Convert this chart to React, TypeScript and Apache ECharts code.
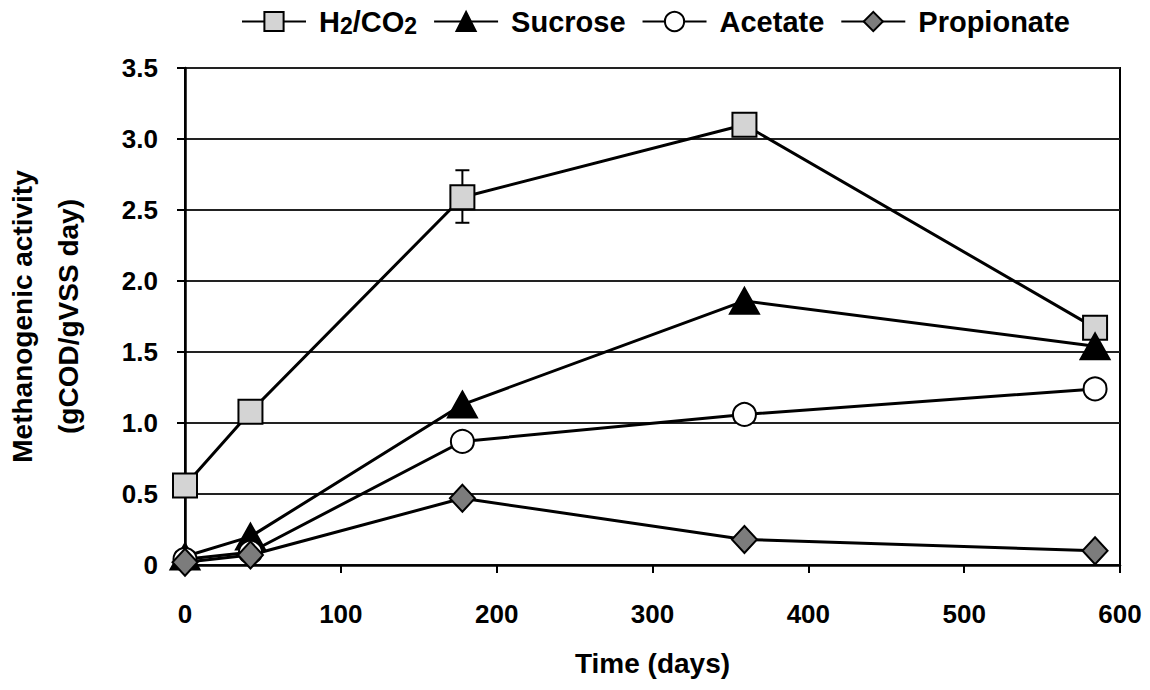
import React, { useEffect, useRef } from "react";
import * as echarts from "echarts";

const days = [0, 42, 178, 359, 584];
const h2co2 = [0.56, 1.08, 2.59, 3.1, 1.67];
const sucrose = [0.06, 0.2, 1.13, 1.86, 1.54];
const acetate = [0.04, 0.09, 0.87, 1.06, 1.24];
const propionate = [0.02, 0.07, 0.47, 0.18, 0.1];
const h2co2ErrorBars = [[178, 2.41, 2.78]];
const seriesNames = ["H2/CO2", "Sucrose", "Acetate", "Propionate"];
const xTicks = [0, 100, 200, 300, 400, 500, 600];
const yTicks = [0, 0.5, 1, 1.5, 2, 2.5, 3, 3.5];

const FONT = "'Liberation Sans', Arial, sans-serif";

export default function App() {
  const ref = useRef<HTMLDivElement>(null);
  useEffect(() => {
    document.body.style.margin = "0";
    const chart = echarts.init(ref.current!, null, { renderer: "svg" });
    const pts = (ys: number[]) => days.map((d, i) => [d, ys[i]]);
    const lineBase = (name: string, ys: number[], symbol: string, size: any, fill: string) => ({
      name,
      type: "line",
      data: pts(ys),
      symbol,
      symbolSize: size,
      showSymbol: true,
      lineStyle: { color: "#000", width: 3 },
      itemStyle: { color: fill, borderColor: "#000", borderWidth: 2, opacity: 1 },
      z: 3,
    });
    const txt = { fontFamily: FONT, fontWeight: "bold", fontSize: 29, color: "#000" };
    chart.setOption({
      animation: false,
      backgroundColor: "#fff",
      textStyle: { fontFamily: FONT },
      legend: {
        data: seriesNames,
        top: 2,
        left: 236,
        itemWidth: 64,
        itemHeight: 24,
        itemGap: 16,
        textStyle: {
          ...txt,
          rich: {
            f: { ...txt, padding: [0, 0, 0, 8] },
            a: { ...txt },
            s: { ...txt, fontSize: 23, padding: [8, 0, 0, 0] },
          },
        },
        formatter: (n: string) => (n === "H2/CO2" ? "{f|H}{s|2}{a|/CO}{s|2}" : "{f|" + n + "}"),
      },
      grid: {
        left: 185,
        right: 30,
        top: 68,
        bottom: 125,
        show: true,
        borderColor: "#000",
        borderWidth: 2,
        outerBoundsMode: "none",
        containLabel: false,
      },
      xAxis: {
        type: "value",
        min: xTicks[0],
        max: xTicks[xTicks.length - 1],
        interval: 100,
        name: "Time (days)",
        nameLocation: "middle",
        nameGap: 84,
        nameTextStyle: { fontFamily: FONT, fontWeight: "bold", fontSize: 28, color: "#000" },
        axisLine: { show: true, lineStyle: { color: "#000", width: 2.5 } },
        axisTick: { show: true, inside: false, length: 8, lineStyle: { color: "#000", width: 2 } },
        axisLabel: { margin: 36, fontFamily: FONT, fontWeight: "bold", fontSize: 26, color: "#000" },
        splitLine: { show: false },
      },
      yAxis: {
        type: "value",
        min: yTicks[0],
        max: yTicks[yTicks.length - 1],
        interval: 0.5,
        name: "Methanogenic activity\n(gCOD/gVSS day)",
        nameLocation: "middle",
        nameRotate: 90,
        nameGap: 94,
        nameTextStyle: { fontFamily: FONT, fontWeight: "bold", fontSize: 28, color: "#000", lineHeight: 46 },
        axisLine: { show: true, lineStyle: { color: "#000", width: 2.5 } },
        axisTick: { show: true, inside: false, length: 8, lineStyle: { color: "#000", width: 2 } },
        axisLabel: {
          margin: 27,
          fontFamily: FONT,
          fontWeight: "bold",
          fontSize: 26,
          color: "#000",
          formatter: (v: number) => (v === 0 ? "0" : v.toFixed(1)),
        },
        splitLine: { show: true, lineStyle: { color: "#222", width: 2 } },
      },
      series: [
        {
          name: "errH2",
          type: "custom",
          data: h2co2ErrorBars,
          z: 2,
          renderItem: (params: any, api: any) => {
            const x = api.value(0);
            const lo = api.coord([x, api.value(1)]);
            const hi = api.coord([x, api.value(2)]);
            const st = { stroke: "#000", lineWidth: 2 };
            return {
              type: "group",
              children: [
                { type: "line", shape: { x1: lo[0], y1: lo[1], x2: hi[0], y2: hi[1] }, style: st },
                { type: "line", shape: { x1: lo[0] - 7, y1: lo[1], x2: lo[0] + 7, y2: lo[1] }, style: st },
                { type: "line", shape: { x1: hi[0] - 7, y1: hi[1], x2: hi[0] + 7, y2: hi[1] }, style: st },
              ],
            };
          },
        },
        lineBase("H2/CO2", h2co2, "rect", 24, "#d4d4d4"),
        lineBase("Sucrose", sucrose, "triangle", [29, 26], "#000"),
        lineBase("Acetate", acetate, "circle", 23, "#fff"),
        lineBase("Propionate", propionate, "diamond", [25, 27], "#7c7c7c"),
      ],
    });
    return () => chart.dispose();
  }, []);
  return <div ref={ref} style={{ width: 1150, height: 690 }} />;
}
